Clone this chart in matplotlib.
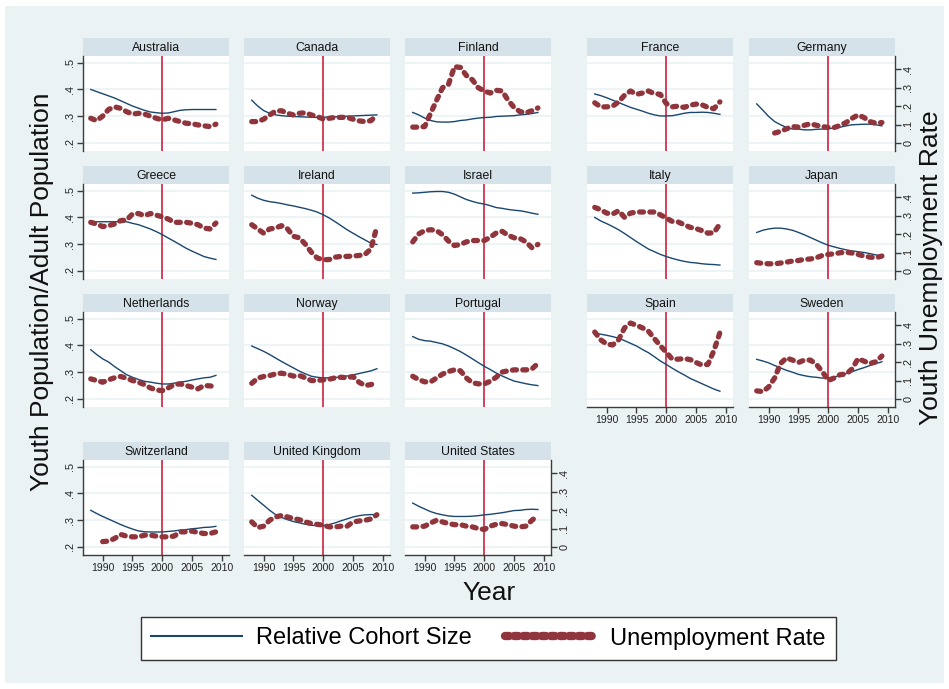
import numpy as np
import matplotlib
matplotlib.use("Agg")
import matplotlib.pyplot as plt
from matplotlib.lines import Line2D
from matplotlib.patches import Rectangle

plt.rcParams['font.family'] = ['Liberation Sans', 'DejaVu Sans']

nan = np.nan
years = list(range(1988, 2010))

# relative cohort size (youth / adult population) and youth unemployment rate
rcs_australia = [.400, .392, .384, .376, .368, .358, .348, .338, .330, .322, .316, .313, .311, .312, .317, .322, .324, .325, .325, .325, .325, .325]
ur_australia = [.134, .121, .146, .182, .196, .188, .170, .157, .161, .157, .146, .134, .125, .134, .125, .116, .107, .104, .098, .093, .089, .102]

rcs_canada = [.360, .338, .321, .311, .305, .302, .300, .299, .298, .297, .296, .296, .296, .297, .298, .299, .300, .301, .302, .303, .304, .305]
ur_canada = [.116, .116, .129, .152, .173, .175, .161, .152, .161, .164, .152, .143, .130, .134, .139, .139, .139, .129, .120, .116, .121, .152]

rcs_finland = [.314, .305, .293, .284, .279, .278, .278, .280, .284, .286, .290, .293, .295, .296, .299, .300, .301, .302, .305, .307, .310, .314]
ur_finland = [.086, .086, .089, .161, .232, .300, .318, .414, .410, .366, .343, .300, .282, .271, .286, .282, .232, .193, .170, .164, .175, .190]

rcs_france = [.383, .377, .369, .360, .351, .342, .333, .326, .319, .311, .305, .301, .301, .302, .306, .311, .314, .314, .315, .314, .311, .307]
ur_france = [.218, .196, .196, .200, .223, .259, .282, .264, .271, .282, .268, .264, .214, .196, .200, .193, .205, .211, .207, .193, .186, .223]

rcs_germany = [.346, .323, .299, .280, .268, .258, .252, .252, .249, .249, .251, .252, .253, .256, .259, .264, .268, .269, .270, .270, .268, .264]
ur_germany = [nan, nan, nan, .054, .063, .077, .089, .086, .096, .104, .096, .089, .084, .084, .095, .111, .134, .152, .138, .116, .107, .111]

rcs_greece = [.384, .384, .384, .384, .384, .384, .384, .378, .373, .365, .357, .347, .336, .323, .311, .298, .285, .274, .264, .254, .248, .243]
ur_greece = [.264, .255, .241, .246, .255, .273, .276, .309, .312, .300, .312, .303, .294, .282, .264, .264, .264, .259, .251, .233, .228, .260]

rcs_ireland = [.483, .472, .464, .459, .456, .452, .447, .443, .438, .433, .427, .420, .410, .398, .384, .369, .354, .341, .328, .316, .304, .299]
ur_ireland = [.251, .228, .205, .228, .233, .246, .228, .188, .180, .145, .102, .070, .061, .062, .075, .079, .079, .081, .084, .090, .120, .241]

rcs_israel = [.491, .492, .494, .496, .497, .497, .494, .487, .477, .467, .460, .454, .450, .444, .437, .434, .430, .427, .425, .421, .416, .412]
ur_israel = [.158, .201, .219, .224, .219, .197, .162, .138, .144, .158, .165, .165, .165, .183, .206, .215, .194, .180, .176, .158, .126, .144]

rcs_italy = [.400, .387, .377, .366, .354, .340, .325, .310, .296, .282, .272, .262, .254, .247, .241, .236, .232, .230, .227, .225, .224, .222]
ur_italy = [.345, .332, .314, .309, .327, .291, .314, .320, .320, .320, .320, .305, .287, .269, .266, .251, .237, .230, .219, .205, .208, .255]

rcs_japan = [.344, .352, .357, .360, .360, .357, .352, .344, .335, .325, .315, .305, .296, .290, .284, .279, .275, .272, .269, .265, .260, .255]
ur_japan = [.045, .041, .039, .039, .043, .048, .054, .057, .063, .065, .072, .084, .090, .093, .099, .102, .097, .090, .081, .075, .072, .081]

rcs_netherlands = [.384, .366, .350, .338, .321, .306, .291, .281, .273, .266, .263, .259, .256, .256, .259, .263, .266, .271, .275, .279, .281, .288]
ur_netherlands = [.109, .100, .091, .104, .115, .122, .113, .100, .091, .078, .060, .049, .045, .060, .078, .082, .073, .064, .055, .073, .071, .067]

rcs_norway = [.398, .388, .378, .366, .353, .340, .328, .316, .304, .294, .285, .281, .279, .279, .280, .283, .286, .290, .295, .300, .305, .313]
ur_norway = [.085, .113, .122, .127, .136, .140, .133, .124, .127, .115, .100, .100, .104, .107, .115, .118, .115, .122, .091, .073, .078, .091]

rcs_portugal = [.433, .423, .418, .416, .411, .406, .398, .388, .377, .364, .350, .336, .322, .310, .297, .286, .276, .267, .262, .257, .253, .250]
ur_portugal = [.123, .105, .093, .093, .114, .135, .149, .158, .153, .114, .088, .082, .082, .096, .118, .146, .153, .158, .158, .158, .163, .193]

rcs_spain = [.446, .442, .438, .433, .427, .418, .408, .398, .385, .373, .358, .342, .329, .315, .302, .290, .277, .267, .257, .247, .237, .229]
ur_spain = [.363, .321, .298, .293, .321, .386, .412, .400, .386, .368, .328, .289, .254, .216, .216, .219, .214, .198, .184, .188, .263, .360]

rcs_sweden = [.348, .342, .335, .325, .316, .307, .300, .292, .287, .283, .281, .278, .279, .282, .288, .295, .302, .310, .317, .325, .332, .339]
ur_sweden = [.044, .040, .065, .114, .193, .223, .211, .198, .211, .211, .188, .149, .100, .114, .132, .135, .163, .219, .205, .193, .202, .233]

rcs_switzerland = [.337, .325, .314, .304, .294, .284, .275, .267, .260, .257, .256, .256, .256, .258, .260, .263, .265, .268, .270, .273, .274, .277]
ur_switzerland = [nan, nan, .029, .032, .046, .068, .059, .055, .055, .064, .064, .059, .055, .055, .059, .082, .082, .086, .079, .073, .073, .082]

rcs_uk = [.393, .374, .356, .337, .321, .310, .302, .295, .290, .285, .281, .280, .280, .284, .290, .298, .305, .312, .317, .320, .321, .321]
ur_uk = [.136, .105, .113, .145, .163, .171, .163, .154, .148, .136, .127, .123, .118, .109, .109, .113, .113, .136, .141, .145, .152, .175]

rcs_us = [.364, .352, .342, .332, .325, .320, .316, .314, .314, .314, .315, .317, .320, .322, .325, .328, .332, .336, .337, .340, .341, .340]
ur_us = [.109, .109, .113, .130, .145, .136, .127, .121, .121, .113, .109, .100, .095, .113, .123, .127, .121, .113, .109, .113, .145, .171]

panels = [
    ("Australia", rcs_australia, ur_australia, 0, 0),
    ("Canada", rcs_canada, ur_canada, 0, 1),
    ("Finland", rcs_finland, ur_finland, 0, 2),
    ("France", rcs_france, ur_france, 0, 3),
    ("Germany", rcs_germany, ur_germany, 0, 4),
    ("Greece", rcs_greece, ur_greece, 1, 0),
    ("Ireland", rcs_ireland, ur_ireland, 1, 1),
    ("Israel", rcs_israel, ur_israel, 1, 2),
    ("Italy", rcs_italy, ur_italy, 1, 3),
    ("Japan", rcs_japan, ur_japan, 1, 4),
    ("Netherlands", rcs_netherlands, ur_netherlands, 2, 0),
    ("Norway", rcs_norway, ur_norway, 2, 1),
    ("Portugal", rcs_portugal, ur_portugal, 2, 2),
    ("Spain", rcs_spain, ur_spain, 2, 3),
    ("Sweden", rcs_sweden, ur_sweden, 2, 4),
    ("Switzerland", rcs_switzerland, ur_switzerland, 3, 0),
    ("United Kingdom", rcs_uk, ur_uk, 3, 1),
    ("United States", rcs_us, ur_us, 3, 2),
]

W, H = 949, 689
BG = '#EAF2F3'
STRIP = '#D6E2E9'
NAVY = '#1A476F'
MAROON = '#90353B'
VLINE = '#C8102E'
AXIS = '#3C3C3C'

col_x = [83, 244, 405, 587, 749]
row_y = [38, 166, 294, 442]
PW, HH, PH = 146, 18, 95

fig = plt.figure(figsize=(W / 100, H / 100), dpi=100)
fig.patch.set_facecolor('white')
fig.patches.append(Rectangle((5 / W, 6 / H), 939 / W, 677 / H, transform=fig.transFigure,
                             facecolor=BG, edgecolor='none', zorder=-5))


def px_axes(x0, y0, w, h):
    return fig.add_axes([x0 / W, 1 - (y0 + h) / H, w / W, h / H])


# thick rounded dots, almost touching
red_style = dict(color=MAROON, lw=3.8, ls=(0, (0.75, 1.2)), dash_capstyle='round')

for name, rcs, ur, r, c in panels:
    x0, y0 = col_x[c], row_y[r]

    hd = px_axes(x0, y0, PW, HH)
    hd.set_facecolor(STRIP)
    hd.set_xticks([]); hd.set_yticks([])
    for s in hd.spines.values():
        s.set_visible(False)
    hd.text(0.5, 0.45, name, ha='center', va='center', fontsize=8.8, color='#111111')

    ax = px_axes(x0, y0 + HH, PW, PH)
    ax.set_facecolor('white')
    ax.set_xlim(1986.7, 2011.2)
    ax.set_ylim(0.17, 0.525)
    ax.set_yticks([.2, .3, .4, .5])
    ax.set_yticklabels(['.2', '.3', '.4', '.5'], rotation=90, va='center')
    ax.yaxis.grid(True, color=BG, lw=1.2)
    ax.set_axisbelow(True)
    ax.set_xticks([1990, 1995, 2000, 2005, 2010])
    ax.axvline(2000, color=VLINE, lw=1.1, zorder=1)
    ax.plot(years, rcs, color=NAVY, lw=1.0, zorder=3)
    for s in ax.spines.values():
        s.set_visible(False)
        s.set_color(AXIS)

    ax2 = ax.twinx()
    ax2.set_ylim(-0.0436, 0.472)
    ax2.set_yticks([0, .1, .2, .3, .4])
    ax2.set_yticklabels(['0', '.1', '.2', '.3', '.4'], rotation=90, va='center')
    ax2.plot(years, ur, **red_style, zorder=4)
    for s in ax2.spines.values():
        s.set_visible(False)
        s.set_color(AXIS)

    left = c == 0
    right = c == 4 or name == "United States"
    bottom = r == 3 or name in ("Spain", "Sweden")

    ax.tick_params(axis='y', left=left, labelleft=left, length=4, width=1, color=AXIS,
                   labelsize=7.8, pad=2, labelcolor='#222222')
    ax.tick_params(axis='x', bottom=bottom, labelbottom=bottom, length=4, width=1, color=AXIS,
                   labelsize=7.5, pad=2, labelcolor='#222222')
    ax2.tick_params(axis='y', right=right, labelright=right, length=4, width=1, color=AXIS,
                    labelsize=7.8, pad=2, labelcolor='#222222')
    ax.spines['left'].set_visible(left)
    ax.spines['bottom'].set_visible(bottom)
    ax2.spines['right'].set_visible(right)
    for s in ('left', 'bottom'):
        ax.spines[s].set_linewidth(1)
    ax2.spines['right'].set_linewidth(1)

fig.text(42 / W, 1 - 292 / H, "Youth Population/Adult Population", rotation=90,
         ha='center', va='center', fontsize=19, color='#111111')
fig.text(931 / W, 1 - 268 / H, "Youth Unemployment Rate", rotation=90,
         ha='center', va='center', fontsize=19, color='#111111')
fig.text(489 / W, 1 - 593 / H, "Year", ha='center', va='center', fontsize=19, color='#111111')

handles = [Line2D([], [], color=NAVY, lw=1.5),
           Line2D([], [], color=MAROON, lw=6, ls=(0, (0.5, 0.6)), dash_capstyle='round')]
leg = fig.legend(handles, ["Relative Cohort Size", "Unemployment Rate"],
                 loc='center', bbox_to_anchor=(488.5 / W, 1 - 638.5 / H), ncol=2,
                 fontsize=17, frameon=True, fancybox=False, framealpha=1,
                 edgecolor='#333333', facecolor='white', handlelength=3.85,
                 handletextpad=0.6, columnspacing=1.4, borderpad=0.45)
leg.get_frame().set_linewidth(1)

fig.savefig("out.png", dpi=100, facecolor=fig.get_facecolor())
